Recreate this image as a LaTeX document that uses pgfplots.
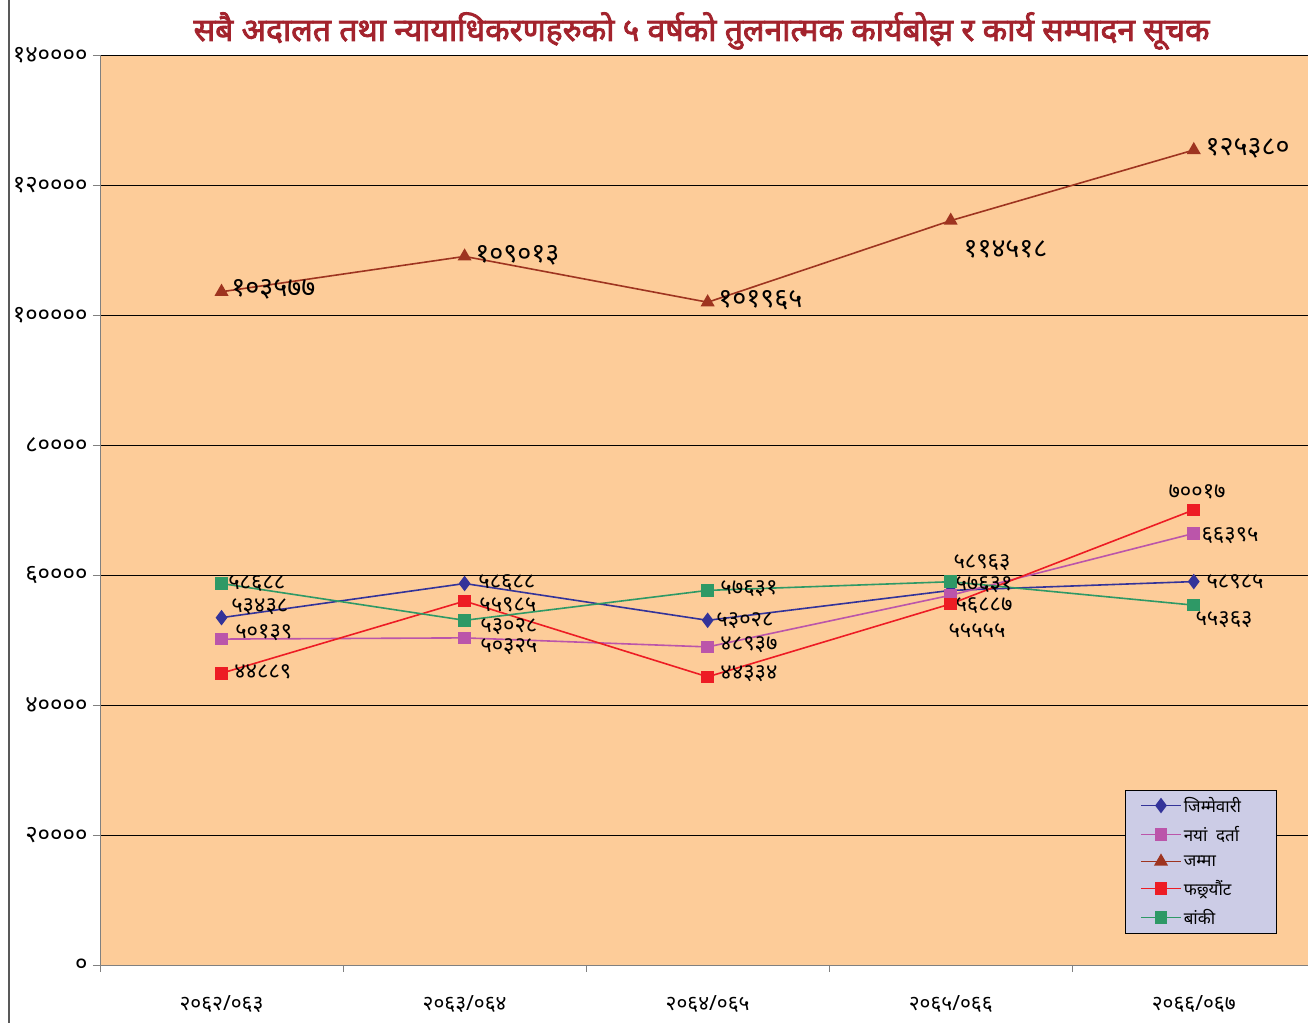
\documentclass[border=0pt]{standalone}
\usepackage{fontspec}
\usepackage{pgfplots}
\usepackage{pgfplotstable}
\pgfplotsset{compat=1.18}
\setmainfont[Script=Devanagari]{Noto Sans}
\newfontfamily\titlefont[Script=Devanagari, FakeBold=2.5]{Noto Sans}

\definecolor{cblue}{RGB}{51,51,153}
\definecolor{cpink}{RGB}{187,85,170}
\definecolor{cbrown}{RGB}{158,52,32}
\definecolor{cred}{RGB}{237,28,36}
\definecolor{cgreen}{RGB}{46,153,102}
\definecolor{peach}{RGB}{253,204,153}
\definecolor{lav}{RGB}{204,204,230}
\definecolor{ctitle}{RGB}{163,35,45}

\newcommand{\lbox}[1]{\makebox[75bp][l]{#1}}

\pgfplotstableread{
x y lab dx dy
0 53438 ५३४३८ 9 11
1 58688 ५८६८८ 13 1
2 53028 ५३०२८ 8 0
3 57631 ५७६३१ 4 6
4 58985 ५८९८५ 12 0
}\jimme
\pgfplotstableread{
x y lab dx dy
0 50139 ५०१३९ 13 6
1 50325 ५०३२५ 15 -9
2 48937 ४८९३७ 12 2
3 56887 ५६८८७ 4 -10
4 66395 ६६३९५ 7 -2
}\naya
\pgfplotstableread{
x y lab dx dy
0 103577 १०३५७७ 9 2
1 109013 १०९०१३ 10 1
2 101965 १०१९६५ 10 2
3 114518 ११४५१८ 12 -29
4 125380 १२५३८० 11 2
}\jamma
\pgfplotstableread{
x y lab dx dy
0 44889 ४४८८९ 12 1
1 55985 ५५९८५ 14 -4
2 44334 ४४३३४ 12 3
3 55555 ५५५५५ -3 -27
4 70017 ७००१७ -26 18
}\phach
\pgfplotstableread{
x y lab dx dy
0 58688 ५८६८८ 6 0
1 53028 ५३०२८ 15 -6
2 57631 ५७६३१ 12 2
3 58963 ५८९६३ 2 19
4 55363 ५५३६३ 1 -15
}\banki

\begin{document}
\begin{tikzpicture}
\useasboundingbox (-100bp,-58bp) rectangle (1208bp,965bp);
\fill[white] (-100bp,-58bp) rectangle (1208bp,965bp);
\draw[gray!70!black, line width=2bp] (-91bp,-58bp) -- (-91bp,965bp);
\begin{axis}[
  scale only axis,
  width=1208bp, height=910bp,
  xmin=-0.5, xmax=4.47,
  ymin=0, ymax=140000,
  clip=false,
  axis background/.style={fill=peach},
  axis x line*=bottom, axis y line*=left,
  axis line style={-, gray, line width=0.8bp},
  ymajorgrids,
  grid style={black, line width=0.8bp},
  ytick={0,20000,40000,60000,80000,100000,120000,140000},
  yticklabels={०,२००००,४००००,६००००,८००००,१०००००,१२००००,१४००००},
  yticklabel style={font=\fontsize{24}{26}\selectfont, xshift=-2bp},
  scaled y ticks=false,
  xtick={-0.5,0.5,1.5,2.5,3.5},
  xticklabels={},
  extra x ticks={0,1,2,3,4},
  extra x tick labels={२०६२/०६३,२०६३/०६४,२०६४/०६५,२०६५/०६६,२०६६/०६७},
  extra x tick style={major tick length=0pt, xticklabel style={font=\fontsize{21}{23}\selectfont, yshift=-27bp}},
  tick align=outside,
  major tick length=7bp,
  tick style={gray, line width=0.8bp},
  every axis plot/.append style={line width=1.6bp},
  nodes near coords,
  point meta=explicit symbolic,
  visualization depends on={\thisrow{dx} \as \dx},
  visualization depends on={\thisrow{dy} \as \dy},
  every node near coord/.style={anchor=west, xshift=\dx bp, yshift=\dy bp, font=\fontsize{22}{23}\selectfont, inner sep=0pt, text=black},
  legend style={at={(0.8485,0.1923)}, anchor=north west, fill=lav, draw=black,
    font=\fontsize{17}{19}\selectfont, row sep=8.5bp, inner xsep=15bp, inner ysep=5bp},
  legend cell align=left,
  legend image code/.code={\draw[#1, line width=1.6bp, mark repeat=2, mark phase=2] plot coordinates {(0bp,0bp) (20bp,0bp) (40bp,0bp)};},
]
\addplot[cblue, draw=cblue, mark=diamond*, mark size=6.5bp, mark options={solid}] table[x=x,y=y,meta=lab]{\jimme};
\addlegendentry{\lbox{जिम्मेवारी}}
\addplot[cpink, draw=cpink, mark=square*, mark size=5.5bp] table[x=x,y=y,meta=lab]{\naya};
\addlegendentry{\lbox{नयां\ \ दर्ता}}
\addplot[cbrown, draw=cbrown, mark=triangle*, mark size=6.5bp, every node near coord/.append style={font=\fontsize{27}{28}\selectfont}] table[x=x,y=y,meta=lab]{\jamma};
\addlegendentry{\lbox{जम्मा}}
\addplot[cred, draw=cred, mark=square*, mark size=5.5bp] table[x=x,y=y,meta=lab]{\phach};
\addlegendentry{\lbox{फछ्र्यौंट}}
\addplot[cgreen, draw=cgreen, mark=square*, mark size=5.5bp] table[x=x,y=y,meta=lab]{\banki};
\addlegendentry{\lbox{बांकी}}
\node[font=\fontsize{32}{34}\titlefont, text=ctitle] at (rel axis cs:0.498,1.0) [yshift=24bp] {सबै अदालत तथा न्यायाधिकरणहरुको ५ वर्षको तुलनात्मक कार्यबोझ र कार्य सम्पादन सूचक};
\end{axis}
\end{tikzpicture}
\end{document}
